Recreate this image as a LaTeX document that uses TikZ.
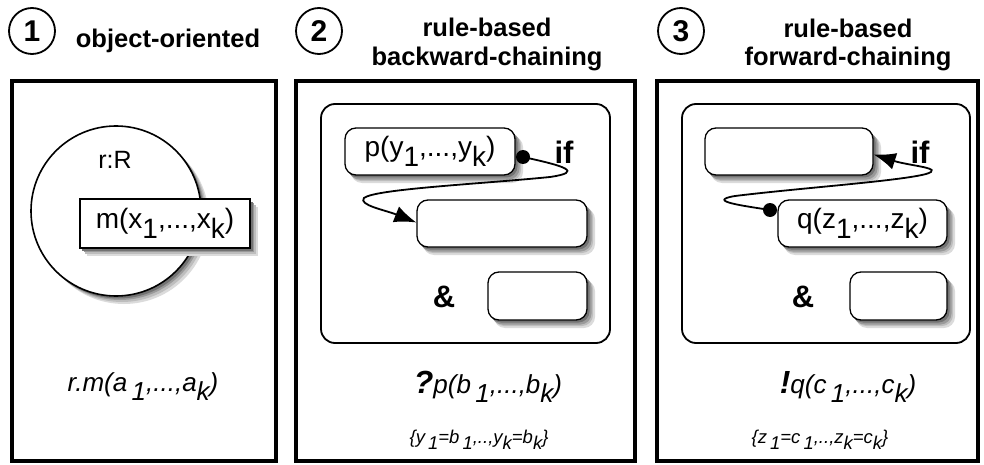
\documentclass[tikz,border=0pt]{standalone}
\usepackage{fontspec}
\setmainfont{Liberation Sans}
\usetikzlibrary{arrows.meta}
\definecolor{shA}{rgb}{0.86,0.86,0.86}
\definecolor{shB}{rgb}{0.74,0.74,0.74}
\definecolor{shC}{rgb}{0.60,0.60,0.60}
\definecolor{shD}{rgb}{0.45,0.45,0.45}
\newcommand\lo[1]{\raisebox{-0.35em}{#1}}
\newcommand\fsz[1]{\fontsize{#1}{#1}\selectfont}
\begin{document}
\begin{tikzpicture}[x=1pt,y=-1pt,
  num/.style={circle,draw,line width=1.8pt,minimum size=46pt,inner sep=0pt,font=\fsz{30}\bfseries},
  ttl/.style={font=\fsz{25.5}\bfseries,anchor=base},
  panel/.style={draw,line width=4.5pt},
  rulebox/.style={draw,line width=1.8pt,rounded corners=14pt},
  lit/.style={draw,line width=1.3pt,rounded corners=11pt,fill=white,font=\fsz{28},inner sep=0pt},
  kw/.style={font=\fsz{31}\bfseries},
  dotn/.style={circle,fill,inner sep=0pt,minimum size=14pt},
  flow/.style={line width=1.8pt,-{Latex[length=22pt,width=17pt]}},
  call/.style={font=\fsz{26}\itshape},
  bind/.style={font=\fsz{18.5}\itshape},
  bshad/.style={rounded corners=#1},
  bshad/.default=11pt
]
\useasboundingbox (0,0) rectangle (984,465);

% headers
\node[num] (n1) at (32,31) {1};
\node[ttl] (t1) at (168,48) {object-oriented};
\node[num] (n2) at (319,31) {2};
\node[ttl] (t2a) at (487,37) {rule-based};
\node[ttl] (t2b) at (487,66) {backward-chaining};
\node[num] (n3) at (681,31) {3};
\node[ttl] (t3a) at (848,38) {rule-based};
\node[ttl] (t3b) at (848,66) {forward-chaining};

% panels
\draw[panel] (12,81) rectangle (276,461);
\draw[panel] (296,81) rectangle (635,461);
\draw[panel] (657,81) rectangle (978,461);

% panel 1: circle shadow and circle
\fill[shA] (124,219) circle[radius=85];
\fill[shB] (122,217) circle[radius=85];
\fill[shC] (120,215) circle[radius=85];
\fill[shD] (118.5,213.5) circle[radius=85];
\node[circle,draw,line width=1.6pt,minimum size=170pt,fill=white] (obj) at (116,211) {};
\node[font=\fsz{25}] (cls) at (115,160) {r:R};
\fill[shA] (87,207) rectangle (258,256);
\fill[shB] (85,205) rectangle (256,254);
\fill[shC] (83.5,203) rectangle (254,252);
\fill[shD] (82,201.5) rectangle (252.5,250.5);
\node[draw,line width=1.3pt,fill=white,minimum width=170pt,minimum height=49pt,inner sep=0pt,font=\fsz{28}] (meth) at (165,223.5) {m(x\lo{1},...,x\lo{k})};
\node[call] (c1) at (143,387) {r.m(a\,\lo{1},...,a\lo{k})};

% panel 2
\draw[rulebox] (321,104) rectangle (610,343);
\foreach \lx/\ty/\rx/\by in {345/128/515/175, 417/200/587/247, 488/272/587/320, 705/128/873/175, 778/200/947/247, 850/272/947/320}{
  \fill[shA,bshad] (\lx+6,\ty+8) rectangle (\rx+8,\by+8);
  \fill[shB,bshad] (\lx+5,\ty+6) rectangle (\rx+6,\by+6);
  \fill[shC,bshad] (\lx+3.5,\ty+4.5) rectangle (\rx+4.5,\by+4.5);
  \fill[shD,bshad] (\lx+2,\ty+3) rectangle (\rx+2.5,\by+2.5);
}
\node[lit,minimum width=170pt,minimum height=47pt] (p) at (430,151.5) {p(y\lo{1},...,y\lo{k})};
\node[lit,minimum width=170pt,minimum height=47pt] (b2) at (502,223.5) {};
\node[lit,minimum width=99pt,minimum height=48pt] (b3) at (537.5,296) {};
\node[kw] (amp2) at (444,297) {\&};
\node[kw] (if2) at (564,152) {if};
\node[dotn] (pd) at (523,157) {};
\draw[flow] (pd.center) .. controls (565,166) and (584,172) .. (550,177)
  .. controls (480,184) and (375,189) .. (364,198)
  .. controls (358,205) and (385,210) .. ([yshift=1pt]b2.west);
\node[call] (c2) at (488,387) {{\fsz{32}\bfseries ?}p(b\,\lo{1},...,b\lo{k})};
\node[bind] (e2) at (479,440) {\{y\,\lo{1}=b\,\lo{1},..,y\lo{k}=b\lo{k}\}};

% panel 3
\draw[rulebox] (682,104) rectangle (970,343);
\node[lit,minimum width=168pt,minimum height=47pt] (a3) at (789,151.5) {};
\node[lit,minimum width=169pt,minimum height=47pt] (q) at (862.5,223.5) {q(z\lo{1},...,z\lo{k})};
\node[lit,minimum width=97pt,minimum height=48pt] (c3b) at (898.5,296) {};
\node[kw] (amp3) at (803,297) {\&};
\node[kw] (if3) at (920,152) {if};
\node[dotn] (qd) at (770,210) {};
\draw[flow] (qd.center) .. controls (745,206) and (705,201) .. (735,196)
  .. controls (800,188) and (900,181) .. (926,174)
  .. controls (946,168) and (910,166) .. ([yshift=-3pt]a3.east);
\node[call] (c3) at (848,387) {{\fsz{32}\bfseries !}q(c\,\lo{1},...,c\lo{k})};
\node[bind] (e3) at (820,440) {\{z\,\lo{1}=c\,\lo{1},..,z\lo{k}=c\lo{k}\}};
\end{tikzpicture}
\end{document}
